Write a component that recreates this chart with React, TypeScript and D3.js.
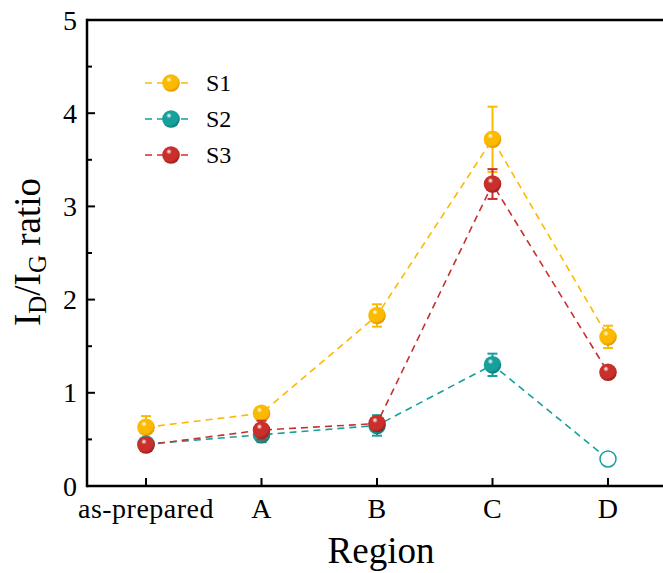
import React from "react";
import * as d3 from "d3";

const categories = ["as-prepared", "A", "B", "C", "D"];
const s1Values = [0.63, 0.78, 1.83, 3.72, 1.6];
const s1Errors = [0.12, 0.05, 0.12, 0.35, 0.12];
const s2Values = [0.45, 0.55, 0.65, 1.3, 0.29];
const s2Errors = [0.05, 0.08, 0.11, 0.12, 0];
const s3Values = [0.44, 0.6, 0.67, 3.24, 1.22];
const s3Errors = [0.03, 0.1, 0.03, 0.16, 0.03];
const s2Open = [false, false, false, false, true];
const yTicks = [0, 1, 2, 3, 4, 5];
const yMinorTicks = [0.5, 1.5, 2.5, 3.5, 4.5];
const seriesNames = ["S1", "S2", "S3"];

const W = 663;
const H = 573;
const left = 87;
const top = 20;
const bottom = 486;
const FONT = "'Liberation Serif', 'Times New Roman', serif";

const colors = ["#FBBA00", "#17A09B", "#C9302C"];
const darks = ["#E39500", "#0B7C78", "#A01C1C"];

export default function App() {
  const x = d3.scalePoint<string>().domain(categories).range([146, 608]);
  const y = d3.scaleLinear().domain([0, 5]).range([bottom, top]);

  const series = [
    { name: seriesNames[0], values: s1Values, errors: s1Errors, open: categories.map(() => false) },
    { name: seriesNames[1], values: s2Values, errors: s2Errors, open: s2Open },
    { name: seriesNames[2], values: s3Values, errors: s3Errors, open: categories.map(() => false) },
  ];

  const line = d3
    .line<number>()
    .x((_, i) => x(categories[i]) as number)
    .y((d) => y(d));

  const r = 8.8;

  const Sphere = ({ cx, cy, k }: { cx: number; cy: number; k: number }) => (
    <circle cx={cx} cy={cy} r={r} fill={`url(#grad${k})`} />
  );

  return (
    <svg width={W} height={H} style={{ position: "absolute", left: 0, top: 0 }}>
      <defs>
        {colors.map((c, k) => (
          <radialGradient key={k} id={`grad${k}`} cx="0.4" cy="0.35" r="0.65" fx="0.38" fy="0.3">
            <stop offset="0" stopColor="#ffffff" />
            <stop offset="0.25" stopColor={c} stopOpacity={1} />
            <stop offset="0.75" stopColor={c} />
            <stop offset="1" stopColor={darks[k]} />
          </radialGradient>
        ))}
      </defs>
      <rect x={0} y={0} width={W} height={H} fill="#fff" />

      {series.map((s, k) => (
        <g key={s.name}>
          <path
            d={line(s.values) || ""}
            fill="none"
            stroke={colors[k]}
            strokeWidth={1.6}
            strokeDasharray="7 5"
          />
          {s.values.map((v, i) => {
            const cx = x(categories[i]) as number;
            const e = s.errors[i];
            if (!e) return null;
            return (
              <g key={i} stroke={colors[k]} strokeWidth={2}>
                <line x1={cx} x2={cx} y1={y(v - e)} y2={y(v + e)} />
                <line x1={cx - 5} x2={cx + 5} y1={y(v + e)} y2={y(v + e)} />
                <line x1={cx - 5} x2={cx + 5} y1={y(v - e)} y2={y(v - e)} />
              </g>
            );
          })}
          {s.values.map((v, i) => {
            const cx = x(categories[i]) as number;
            const cy = y(v);
            if (s.open[i]) {
              return (
                <g key={"m" + i}>
                  <circle cx={cx} cy={cy} r={r + 1} fill="#fff" />
                  <circle cx={cx} cy={cy} r={r - 0.8} fill="#fff" stroke={colors[k]} strokeWidth={1.5} />
                </g>
              );
            }
            return <Sphere key={"m" + i} cx={cx} cy={cy} k={k} />;
          })}
        </g>
      ))}

      {/* frame */}
      <g stroke="#000" strokeWidth={2.5} fill="none">
        <line x1={left} x2={left} y1={top - 1.25} y2={bottom + 1.25} />
        <line x1={left} x2={W + 10} y1={top} y2={top} />
        <line x1={left} x2={W + 10} y1={bottom} y2={bottom} />
      </g>

      {/* y ticks */}
      {yTicks.map((t) => (
        <g key={t}>
          <line x1={left} x2={left + 8} y1={y(t)} y2={y(t)} stroke="#000" strokeWidth={2} />
          <text
            x={left - 10}
            y={y(t)}
            textAnchor="end"
            dominantBaseline="central"
            fontFamily={FONT}
            fontSize={28}
          >
            {t}
          </text>
        </g>
      ))}
      {yMinorTicks.map((t) => (
        <line key={t} x1={left} x2={left + 5} y1={y(t)} y2={y(t)} stroke="#000" strokeWidth={2} />
      ))}

      {/* x ticks */}
      {categories.map((c) => (
        <g key={c}>
          <line
            x1={x(c) as number}
            x2={x(c) as number}
            y1={bottom}
            y2={bottom - 8}
            stroke="#000"
            strokeWidth={2}
          />
          <text
            x={x(c) as number}
            y={518}
            textAnchor="middle"
            fontFamily={FONT}
            fontSize={28}
            letterSpacing={0.5}
          >
            {c}
          </text>
        </g>
      ))}

      {/* axis titles */}
      <text x={381} y={563} textAnchor="middle" fontFamily={FONT} fontSize={37}>
        Region
      </text>
      <text
        transform="translate(40,252) rotate(-90)"
        textAnchor="middle"
        fontFamily={FONT}
        fontSize={37}
      >
        I<tspan fontSize={25} dy={6}>D</tspan>
        <tspan dy={-6}>/I</tspan>
        <tspan fontSize={25} dy={6}>G</tspan>
        <tspan dy={-6}> ratio</tspan>
      </text>

      {/* legend */}
      {series.map((s, k) => {
        const ly = 83 + k * 36;
        return (
          <g key={"leg" + k}>
            <line x1={145} x2={188} y1={ly} y2={ly} stroke={colors[k]} strokeWidth={1.6} strokeDasharray="7 5" />
            <Sphere cx={171} cy={ly} k={k} />
            <text x={206} y={ly} dominantBaseline="central" fontFamily={FONT} fontSize={24}>
              {s.name}
            </text>
          </g>
        );
      })}
    </svg>
  );
}
